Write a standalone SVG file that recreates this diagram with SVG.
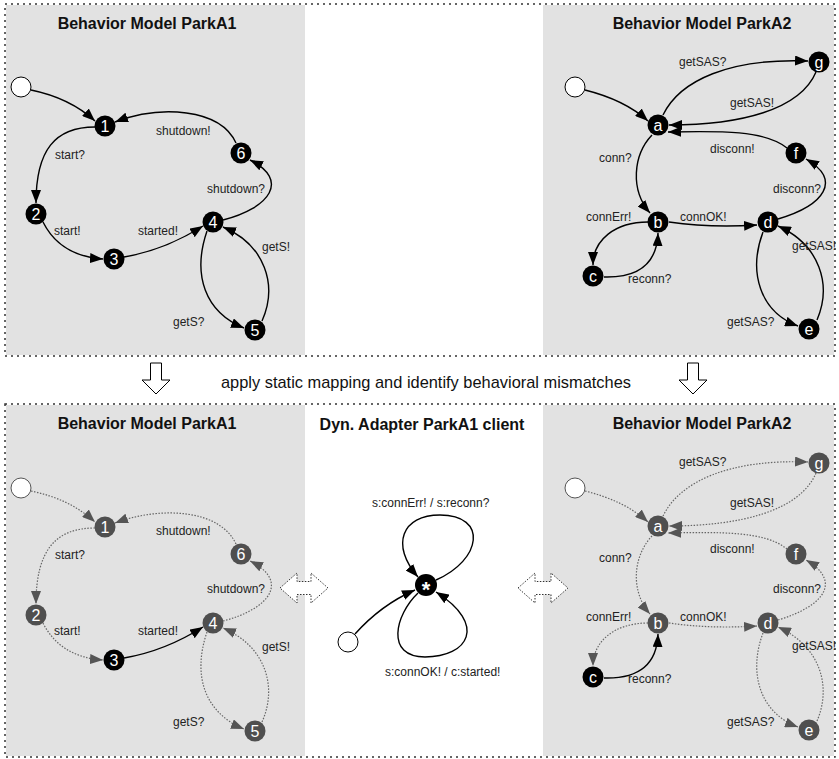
<svg xmlns="http://www.w3.org/2000/svg" width="839" height="759" viewBox="0 0 839 759">
  <defs>
    <marker id="arr" viewBox="0 0 13 10" refX="13" refY="5" markerWidth="13" markerHeight="10" markerUnits="userSpaceOnUse" orient="auto">
      <path d="M0,0 L13,5 L0,10 z" fill="#000"/>
    </marker>
    <marker id="garr" viewBox="0 0 13 10" refX="13" refY="5" markerWidth="13" markerHeight="10" markerUnits="userSpaceOnUse" orient="auto">
      <path d="M0,0 L13,5 L0,10 z" fill="#555"/>
    </marker>
    <style>
      .panel { fill: #e2e2e2; }
      .frame { fill: none; stroke: #333; stroke-width: 1.5; stroke-dasharray: 2 4; }
      .title { font: bold 16px "Liberation Sans", Arial, sans-serif; fill: #111; text-anchor: middle; }
      .caption { font: 16.4px "Liberation Sans", Arial, sans-serif; fill: #111; text-anchor: middle; }
      .lbl { font: 12px "Liberation Sans", Arial, sans-serif; fill: #222; }
      .node circle { fill: #000; }
      .gnode circle { fill: #4f4f4f; }
      .node text, .gnode text { font: 16px "Liberation Sans", Arial, sans-serif; fill: #fff; text-anchor: middle; }
      .init circle { fill: #fff; stroke: #000; stroke-width: 1; }
      .ginit circle { fill: #fff; stroke: #555; stroke-width: 1; }
      .edge { fill: none; stroke: #000; stroke-width: 1.4; marker-end: url(#arr); }
      .dedge { fill: none; stroke: #666; stroke-width: 1.2; stroke-dasharray: 1.5 1.5; marker-end: url(#garr); }
      .block { fill: #fff; stroke: #000; stroke-width: 1; }
      .dblock { fill: #fff; stroke: #333; stroke-width: 1; stroke-dasharray: 1.5 1.5; }
    </style>
  </defs>

  <!-- background panels -->
  <rect x="0" y="0" width="839" height="759" fill="#fff"/>
  <rect class="panel" x="6" y="5" width="299" height="350"/>
  <rect class="panel" x="543" y="5" width="291" height="350"/>
  <rect class="panel" x="6" y="405" width="299" height="351"/>
  <rect class="panel" x="543" y="405" width="291" height="351"/>
  <rect class="frame" x="5" y="4" width="830" height="352"/>
  <rect class="frame" x="5" y="404" width="830" height="353"/>

  <!-- titles -->
  <text class="title" x="147" y="29">Behavior Model ParkA1</text>
  <text class="title" x="702" y="29">Behavior Model ParkA2</text>
  <text class="title" x="147" y="429">Behavior Model ParkA1</text>
  <text class="title" x="702" y="429">Behavior Model ParkA2</text>
  <text class="title" x="422" y="430">Dyn. Adapter ParkA1 client</text>

  <!-- transition step between the two rows -->
  <g id="step">
    <polygon class="block" points="150.5,363 161.5,363 161.5,380 170,380 156,394 142,380 150.5,380"/>
    <polygon class="block" points="687.5,363 698.5,363 698.5,380 707,380 693,394 679,380 687.5,380"/>
    <text class="caption" x="426" y="388">apply static mapping and identify behavioral mismatches</text>
  </g>

  <!-- ParkA1 (top) -->
  <g id="a1-connectors">
    <path class="edge" d="M31,90 Q70,98 95,121"/>
    <path class="edge" d="M95,127 C55,127 36,150 36,203"/>
    <path class="edge" d="M43,222 Q60,256 103,259"/>
    <path class="edge" d="M124,257 Q165,250 203,226"/>
    <path class="edge" d="M223,220 C270,208 290,180 250,160"/>
    <path class="edge" d="M236,143 C220,108 160,105 115,122"/>
    <path class="edge" d="M207,231 C192,275 205,312 244,328"/>
    <path class="edge" d="M262,321 C278,285 265,245 223,227"/>
  </g>
  <g id="a1-labels">
    <text class="lbl" x="55" y="159">start?</text>
    <text class="lbl" x="156" y="135">shutdown!</text>
    <text class="lbl" x="207" y="193">shutdown?</text>
    <text class="lbl" x="54" y="235">start!</text>
    <text class="lbl" x="138" y="235">started!</text>
    <text class="lbl" x="262" y="251">getS!</text>
    <text class="lbl" x="173" y="326">getS?</text>
  </g>
  <g id="a1-init" class="init"><circle cx="21" cy="87" r="10"/></g>
  <g id="a1-n1" class="node"><circle cx="105" cy="126" r="10.5"/><text x="105" y="132">1</text></g>
  <g id="a1-n2" class="node"><circle cx="36" cy="214" r="10.5"/><text x="36" y="220">2</text></g>
  <g id="a1-n3" class="node"><circle cx="114" cy="259" r="10.5"/><text x="114" y="265">3</text></g>
  <g id="a1-n4" class="node"><circle cx="213" cy="222" r="10.5"/><text x="213" y="228">4</text></g>
  <g id="a1-n5" class="node"><circle cx="255" cy="330" r="10.5"/><text x="255" y="336">5</text></g>
  <g id="a1-n6" class="node"><circle cx="241" cy="153" r="10.5"/><text x="241" y="159">6</text></g>

  <!-- ParkA2 (top) -->
  <g id="a2-connectors">
    <path class="edge" d="M585,90 Q625,100 648,121"/>
    <path class="edge" d="M663,115 C680,80 730,58 808,61"/>
    <path class="edge" d="M816,72 C800,110 740,125 669,125"/>
    <path class="edge" d="M787,148 C765,130 720,131 668,132"/>
    <path class="edge" d="M652,135 C633,155 630,190 650,213"/>
    <path class="edge" d="M778,219 C825,205 842,180 806,159"/>
    <path class="edge" d="M669,222 Q710,228 757,225"/>
    <path class="edge" d="M648,222 C615,222 593,240 593,265"/>
    <path class="edge" d="M604,277 C640,278 657,262 658,233"/>
    <path class="edge" d="M763,232 C748,272 760,312 798,326"/>
    <path class="edge" d="M817,320 C832,285 820,245 778,226"/>
  </g>
  <g id="a2-labels">
    <text class="lbl" x="679" y="66">getSAS?</text>
    <text class="lbl" x="730" y="107">getSAS!</text>
    <text class="lbl" x="710" y="153">disconn!</text>
    <text class="lbl" x="599" y="162">conn?</text>
    <text class="lbl" x="773" y="193">disconn?</text>
    <text class="lbl" x="586" y="221">connErr!</text>
    <text class="lbl" x="680" y="221">connOK!</text>
    <text class="lbl" x="628" y="283">reconn?</text>
    <text class="lbl" x="792" y="250">getSAS!</text>
    <text class="lbl" x="727" y="326">getSAS?</text>
  </g>
  <g id="a2-init" class="init"><circle cx="575" cy="87" r="10"/></g>
  <g id="a2-a" class="node"><circle cx="658" cy="125" r="10.5"/><text x="658" y="130.5">a</text></g>
  <g id="a2-g" class="node"><circle cx="819" cy="62" r="10.5"/><text x="819" y="67.5">g</text></g>
  <g id="a2-f" class="node"><circle cx="796" cy="153" r="10.5"/><text x="796" y="159">f</text></g>
  <g id="a2-b" class="node"><circle cx="658" cy="222" r="10.5"/><text x="658" y="228">b</text></g>
  <g id="a2-c" class="node"><circle cx="593" cy="276" r="10.5"/><text x="593" y="281.5">c</text></g>
  <g id="a2-d" class="node"><circle cx="768" cy="222" r="10.5"/><text x="768" y="228">d</text></g>
  <g id="a2-e" class="node"><circle cx="809" cy="329" r="10.5"/><text x="809" y="334.5">e</text></g>

  <!-- ParkA1 (bottom, mismatch view) -->
  <g transform="translate(0,401)">
    <g id="b1-connectors">
      <path class="dedge" d="M31,90 Q70,98 95,121"/>
      <path class="dedge" d="M95,127 C55,127 36,150 36,203"/>
      <path class="dedge" d="M43,222 Q60,256 103,259"/>
      <path class="edge" d="M124,257 Q165,250 203,226"/>
      <path class="dedge" d="M223,220 C270,208 290,180 250,160"/>
      <path class="dedge" d="M236,143 C220,108 160,105 115,122"/>
      <path class="dedge" d="M207,231 C192,275 205,312 244,328"/>
      <path class="dedge" d="M262,321 C278,285 265,245 223,227"/>
    </g>
    <g id="b1-labels">
      <text class="lbl" x="55" y="158">start?</text>
      <text class="lbl" x="156" y="134">shutdown!</text>
      <text class="lbl" x="207" y="192">shutdown?</text>
      <text class="lbl" x="54" y="234">start!</text>
      <text class="lbl" x="138" y="234">started!</text>
      <text class="lbl" x="262" y="250">getS!</text>
      <text class="lbl" x="173" y="325">getS?</text>
    </g>
    <g id="b1-init" class="ginit"><circle cx="21" cy="87" r="10"/></g>
    <g id="b1-n1" class="gnode"><circle cx="105" cy="126" r="10.5"/><text x="105" y="132">1</text></g>
    <g id="b1-n2" class="gnode"><circle cx="36" cy="214" r="10.5"/><text x="36" y="220">2</text></g>
    <g id="b1-n3" class="node"><circle cx="114" cy="259" r="10.5"/><text x="114" y="265">3</text></g>
    <g id="b1-n4" class="gnode"><circle cx="213" cy="222" r="10.5"/><text x="213" y="228">4</text></g>
    <g id="b1-n5" class="gnode"><circle cx="255" cy="330" r="10.5"/><text x="255" y="336">5</text></g>
    <g id="b1-n6" class="gnode"><circle cx="241" cy="153" r="10.5"/><text x="241" y="159">6</text></g>
  </g>

  <!-- ParkA2 (bottom, mismatch view) -->
  <g transform="translate(0,401)">
    <g id="b2-connectors">
      <path class="dedge" d="M585,90 Q625,100 648,121"/>
      <path class="dedge" d="M663,115 C680,80 730,58 808,61"/>
      <path class="dedge" d="M816,72 C800,110 740,125 669,125"/>
      <path class="dedge" d="M787,148 C765,130 720,131 668,132"/>
      <path class="dedge" d="M652,135 C633,155 630,190 650,213"/>
      <path class="dedge" d="M778,219 C825,205 842,180 806,159"/>
      <path class="dedge" d="M669,222 Q710,228 757,225"/>
      <path class="dedge" d="M648,222 C615,222 593,240 593,265"/>
      <path class="edge" d="M604,277 C640,278 657,262 658,233"/>
      <path class="dedge" d="M763,232 C748,272 760,312 798,326"/>
      <path class="dedge" d="M817,320 C832,285 820,245 778,226"/>
    </g>
    <g id="b2-labels">
      <text class="lbl" x="679" y="65">getSAS?</text>
      <text class="lbl" x="730" y="106">getSAS!</text>
      <text class="lbl" x="710" y="152">disconn!</text>
      <text class="lbl" x="599" y="161">conn?</text>
      <text class="lbl" x="773" y="192">disconn?</text>
      <text class="lbl" x="586" y="220">connErr!</text>
      <text class="lbl" x="680" y="220">connOK!</text>
      <text class="lbl" x="628" y="282">reconn?</text>
      <text class="lbl" x="792" y="249">getSAS!</text>
      <text class="lbl" x="727" y="325">getSAS?</text>
    </g>
    <g id="b2-init" class="ginit"><circle cx="575" cy="87" r="10"/></g>
    <g id="b2-a" class="gnode"><circle cx="658" cy="125" r="10.5"/><text x="658" y="130.5">a</text></g>
    <g id="b2-g" class="gnode"><circle cx="819" cy="62" r="10.5"/><text x="819" y="67.5">g</text></g>
    <g id="b2-f" class="gnode"><circle cx="796" cy="153" r="10.5"/><text x="796" y="159">f</text></g>
    <g id="b2-b" class="gnode"><circle cx="658" cy="222" r="10.5"/><text x="658" y="228">b</text></g>
    <g id="b2-c" class="node"><circle cx="593" cy="276" r="10.5"/><text x="593" y="281.5">c</text></g>
    <g id="b2-d" class="gnode"><circle cx="768" cy="222" r="10.5"/><text x="768" y="228">d</text></g>
    <g id="b2-e" class="gnode"><circle cx="809" cy="329" r="10.5"/><text x="809" y="334.5">e</text></g>
  </g>

  <!-- mapping links between adapter and models -->
  <g id="links">
    <polygon class="dblock" points="280,588 297,573 297,581.5 311,581.5 311,573 328,588 311,603 311,594.5 297,594.5 297,603"/>
    <polygon class="dblock" points="518,588 535,573 535,581.5 551,581.5 551,573 568,588 551,603 551,594.5 535,594.5 535,603"/>
  </g>

  <!-- dynamic adapter -->
  <g id="ad-connectors">
    <path class="edge" d="M355,634 C372,615 392,600 415,590"/>
    <path class="edge" d="M436,580 C482,560 488,515 440,515 C402,515 390,545 418,577"/>
    <path class="edge" d="M418,593 C395,615 385,657 425,657 C468,657 488,625 436,592"/>
  </g>
  <g id="ad-labels">
    <text class="lbl" x="372" y="507">s:connErr! / s:reconn?</text>
    <text class="lbl" x="385" y="676">s:connOK! / c:started!</text>
  </g>
  <g id="ad-init" class="init"><circle cx="348" cy="642" r="10"/></g>
  <g id="ad-star" class="node"><circle cx="426" cy="585" r="11"/><text x="426" y="597" style="font-size:22px;font-weight:bold">*</text></g>
</svg>
